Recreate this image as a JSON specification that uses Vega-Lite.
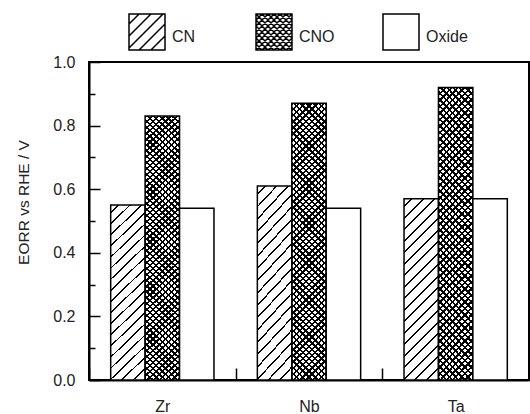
{
"$schema":"https://vega.github.io/schema/vega-lite/v6.json",
"width":440,"height":318,
"autosize":{"type":"none"},
"padding":{"left":89,"top":62,"right":1,"bottom":34},
"background":"white",
"config":{"font":"Liberation Sans","view":{"stroke":"black","strokeWidth":2},
"axis":{"grid":false,"domainColor":"black","domainWidth":2,"tickColor":"black","tickWidth":1.5,"labelFont":"Liberation Sans","labelFontSize":16,"labelColor":"#222","titleFont":"Liberation Sans","titleFontWeight":"normal","titleColor":"#222"}},
"data":{"values":[
{"metal":"Zr","type":"CN","value":0.55},{"metal":"Zr","type":"CNO","value":0.83},{"metal":"Zr","type":"Oxide","value":0.54},
{"metal":"Nb","type":"CN","value":0.61},{"metal":"Nb","type":"CNO","value":0.87},{"metal":"Nb","type":"Oxide","value":0.54},
{"metal":"Ta","type":"CN","value":0.57},{"metal":"Ta","type":"CNO","value":0.92},{"metal":"Ta","type":"Oxide","value":0.57}]},
"encoding":{
"x":{"field":"metal","type":"nominal","sort":["Zr","Nb","Ta"],"scale":{"paddingInner":0,"paddingOuter":0},
"axis":{"title":null,"labelAngle":0,"tickBand":"extent","tickSize":-12,"labelPadding":30}},
"xOffset":{"field":"type","type":"nominal","scale":{"domain":["CN","CNO","Oxide"],"paddingInner":0,"paddingOuter":0.63}},
"y":{"field":"value","type":"quantitative","scale":{"domain":[0,1],"nice":false},
"axis":{"title":"EORR vs RHE / V","titleFontSize":15.5,"titleX":-58,"titleY":140,"values":[0,0.1,0.2,0.3,0.4,0.5,0.6,0.7,0.8,0.9,1],
"labelExpr":"round(datum.value*10)%2==0 ? format(datum.value,'.1f') : ''",
"tickSize":{"condition":{"test":"round(datum.value*10)%2==0","value":-11},"value":-6},"labelPadding":25}}
},
"layer":[
{"transform":[{"filter":"datum.type==='CN'"}],
"mark":{"type":"bar","strokeWidth":0,"fill":{"gradient":"linear","x1":0,"y1":0,"x2":0.2331,"y2":1.2265,"stops":[
{"offset":0.03,"color":"#fff"},{"offset":0.03,"color":"#000"},{"offset":0.038,"color":"#000"},{"offset":0.038,"color":"#fff"},
{"offset":0.08,"color":"#fff"},{"offset":0.08,"color":"#000"},{"offset":0.088,"color":"#000"},{"offset":0.088,"color":"#fff"},
{"offset":0.13,"color":"#fff"},{"offset":0.13,"color":"#000"},{"offset":0.138,"color":"#000"},{"offset":0.138,"color":"#fff"},
{"offset":0.18,"color":"#fff"},{"offset":0.18,"color":"#000"},{"offset":0.188,"color":"#000"},{"offset":0.188,"color":"#fff"},
{"offset":0.23,"color":"#fff"},{"offset":0.23,"color":"#000"},{"offset":0.238,"color":"#000"},{"offset":0.238,"color":"#fff"},
{"offset":0.28,"color":"#fff"},{"offset":0.28,"color":"#000"},{"offset":0.288,"color":"#000"},{"offset":0.288,"color":"#fff"},
{"offset":0.33,"color":"#fff"},{"offset":0.33,"color":"#000"},{"offset":0.338,"color":"#000"},{"offset":0.338,"color":"#fff"},
{"offset":0.38,"color":"#fff"},{"offset":0.38,"color":"#000"},{"offset":0.388,"color":"#000"},{"offset":0.388,"color":"#fff"},
{"offset":0.43,"color":"#fff"},{"offset":0.43,"color":"#000"},{"offset":0.438,"color":"#000"},{"offset":0.438,"color":"#fff"},
{"offset":0.48,"color":"#fff"},{"offset":0.48,"color":"#000"},{"offset":0.488,"color":"#000"},{"offset":0.488,"color":"#fff"},
{"offset":0.53,"color":"#fff"},{"offset":0.53,"color":"#000"},{"offset":0.538,"color":"#000"},{"offset":0.538,"color":"#fff"},
{"offset":0.58,"color":"#fff"},{"offset":0.58,"color":"#000"},{"offset":0.588,"color":"#000"},{"offset":0.588,"color":"#fff"},
{"offset":0.63,"color":"#fff"},{"offset":0.63,"color":"#000"},{"offset":0.638,"color":"#000"},{"offset":0.638,"color":"#fff"},
{"offset":0.68,"color":"#fff"},{"offset":0.68,"color":"#000"},{"offset":0.688,"color":"#000"},{"offset":0.688,"color":"#fff"},
{"offset":0.73,"color":"#fff"},{"offset":0.73,"color":"#000"},{"offset":0.738,"color":"#000"},{"offset":0.738,"color":"#fff"},
{"offset":0.78,"color":"#fff"},{"offset":0.78,"color":"#000"},{"offset":0.788,"color":"#000"},{"offset":0.788,"color":"#fff"},
{"offset":0.83,"color":"#fff"},{"offset":0.83,"color":"#000"},{"offset":0.838,"color":"#000"},{"offset":0.838,"color":"#fff"},
{"offset":0.88,"color":"#fff"},{"offset":0.88,"color":"#000"},{"offset":0.888,"color":"#000"},{"offset":0.888,"color":"#fff"},
{"offset":0.93,"color":"#fff"},{"offset":0.93,"color":"#000"},{"offset":0.938,"color":"#000"},{"offset":0.938,"color":"#fff"},
{"offset":0.98,"color":"#fff"},{"offset":0.98,"color":"#000"},{"offset":0.988,"color":"#000"},{"offset":0.988,"color":"#fff"}
]}}},
{"transform":[{"filter":"datum.type==='CNO'"}],
"mark":{"type":"bar","strokeWidth":0,"fill":{"gradient":"linear","x1":0,"y1":0,"x2":0.1508,"y2":1.2188,"stops":[
{"offset":0,"color":"#fff"},{"offset":0,"color":"#000"},{"offset":0.007,"color":"#000"},{"offset":0.007,"color":"#fff"},
{"offset":0.018,"color":"#fff"},{"offset":0.018,"color":"#000"},{"offset":0.025,"color":"#000"},{"offset":0.025,"color":"#fff"},
{"offset":0.036,"color":"#fff"},{"offset":0.036,"color":"#000"},{"offset":0.043,"color":"#000"},{"offset":0.043,"color":"#fff"},
{"offset":0.054,"color":"#fff"},{"offset":0.054,"color":"#000"},{"offset":0.061,"color":"#000"},{"offset":0.061,"color":"#fff"},
{"offset":0.072,"color":"#fff"},{"offset":0.072,"color":"#000"},{"offset":0.079,"color":"#000"},{"offset":0.079,"color":"#fff"},
{"offset":0.09,"color":"#fff"},{"offset":0.09,"color":"#000"},{"offset":0.097,"color":"#000"},{"offset":0.097,"color":"#fff"},
{"offset":0.108,"color":"#fff"},{"offset":0.108,"color":"#000"},{"offset":0.115,"color":"#000"},{"offset":0.115,"color":"#fff"},
{"offset":0.126,"color":"#fff"},{"offset":0.126,"color":"#000"},{"offset":0.133,"color":"#000"},{"offset":0.133,"color":"#fff"},
{"offset":0.144,"color":"#fff"},{"offset":0.144,"color":"#000"},{"offset":0.151,"color":"#000"},{"offset":0.151,"color":"#fff"},
{"offset":0.162,"color":"#fff"},{"offset":0.162,"color":"#000"},{"offset":0.169,"color":"#000"},{"offset":0.169,"color":"#fff"},
{"offset":0.18,"color":"#fff"},{"offset":0.18,"color":"#000"},{"offset":0.187,"color":"#000"},{"offset":0.187,"color":"#fff"},
{"offset":0.198,"color":"#fff"},{"offset":0.198,"color":"#000"},{"offset":0.205,"color":"#000"},{"offset":0.205,"color":"#fff"},
{"offset":0.216,"color":"#fff"},{"offset":0.216,"color":"#000"},{"offset":0.223,"color":"#000"},{"offset":0.223,"color":"#fff"},
{"offset":0.234,"color":"#fff"},{"offset":0.234,"color":"#000"},{"offset":0.241,"color":"#000"},{"offset":0.241,"color":"#fff"},
{"offset":0.252,"color":"#fff"},{"offset":0.252,"color":"#000"},{"offset":0.259,"color":"#000"},{"offset":0.259,"color":"#fff"},
{"offset":0.27,"color":"#fff"},{"offset":0.27,"color":"#000"},{"offset":0.277,"color":"#000"},{"offset":0.277,"color":"#fff"},
{"offset":0.288,"color":"#fff"},{"offset":0.288,"color":"#000"},{"offset":0.295,"color":"#000"},{"offset":0.295,"color":"#fff"},
{"offset":0.306,"color":"#fff"},{"offset":0.306,"color":"#000"},{"offset":0.313,"color":"#000"},{"offset":0.313,"color":"#fff"},
{"offset":0.324,"color":"#fff"},{"offset":0.324,"color":"#000"},{"offset":0.331,"color":"#000"},{"offset":0.331,"color":"#fff"},
{"offset":0.342,"color":"#fff"},{"offset":0.342,"color":"#000"},{"offset":0.349,"color":"#000"},{"offset":0.349,"color":"#fff"},
{"offset":0.36,"color":"#fff"},{"offset":0.36,"color":"#000"},{"offset":0.367,"color":"#000"},{"offset":0.367,"color":"#fff"},
{"offset":0.378,"color":"#fff"},{"offset":0.378,"color":"#000"},{"offset":0.385,"color":"#000"},{"offset":0.385,"color":"#fff"},
{"offset":0.396,"color":"#fff"},{"offset":0.396,"color":"#000"},{"offset":0.403,"color":"#000"},{"offset":0.403,"color":"#fff"},
{"offset":0.414,"color":"#fff"},{"offset":0.414,"color":"#000"},{"offset":0.421,"color":"#000"},{"offset":0.421,"color":"#fff"},
{"offset":0.432,"color":"#fff"},{"offset":0.432,"color":"#000"},{"offset":0.439,"color":"#000"},{"offset":0.439,"color":"#fff"},
{"offset":0.45,"color":"#fff"},{"offset":0.45,"color":"#000"},{"offset":0.457,"color":"#000"},{"offset":0.457,"color":"#fff"},
{"offset":0.468,"color":"#fff"},{"offset":0.468,"color":"#000"},{"offset":0.475,"color":"#000"},{"offset":0.475,"color":"#fff"},
{"offset":0.486,"color":"#fff"},{"offset":0.486,"color":"#000"},{"offset":0.493,"color":"#000"},{"offset":0.493,"color":"#fff"},
{"offset":0.504,"color":"#fff"},{"offset":0.504,"color":"#000"},{"offset":0.511,"color":"#000"},{"offset":0.511,"color":"#fff"},
{"offset":0.522,"color":"#fff"},{"offset":0.522,"color":"#000"},{"offset":0.529,"color":"#000"},{"offset":0.529,"color":"#fff"},
{"offset":0.54,"color":"#fff"},{"offset":0.54,"color":"#000"},{"offset":0.547,"color":"#000"},{"offset":0.547,"color":"#fff"},
{"offset":0.558,"color":"#fff"},{"offset":0.558,"color":"#000"},{"offset":0.565,"color":"#000"},{"offset":0.565,"color":"#fff"},
{"offset":0.576,"color":"#fff"},{"offset":0.576,"color":"#000"},{"offset":0.583,"color":"#000"},{"offset":0.583,"color":"#fff"},
{"offset":0.594,"color":"#fff"},{"offset":0.594,"color":"#000"},{"offset":0.601,"color":"#000"},{"offset":0.601,"color":"#fff"},
{"offset":0.612,"color":"#fff"},{"offset":0.612,"color":"#000"},{"offset":0.619,"color":"#000"},{"offset":0.619,"color":"#fff"},
{"offset":0.63,"color":"#fff"},{"offset":0.63,"color":"#000"},{"offset":0.637,"color":"#000"},{"offset":0.637,"color":"#fff"},
{"offset":0.648,"color":"#fff"},{"offset":0.648,"color":"#000"},{"offset":0.655,"color":"#000"},{"offset":0.655,"color":"#fff"},
{"offset":0.666,"color":"#fff"},{"offset":0.666,"color":"#000"},{"offset":0.673,"color":"#000"},{"offset":0.673,"color":"#fff"},
{"offset":0.684,"color":"#fff"},{"offset":0.684,"color":"#000"},{"offset":0.691,"color":"#000"},{"offset":0.691,"color":"#fff"},
{"offset":0.702,"color":"#fff"},{"offset":0.702,"color":"#000"},{"offset":0.709,"color":"#000"},{"offset":0.709,"color":"#fff"},
{"offset":0.72,"color":"#fff"},{"offset":0.72,"color":"#000"},{"offset":0.727,"color":"#000"},{"offset":0.727,"color":"#fff"},
{"offset":0.738,"color":"#fff"},{"offset":0.738,"color":"#000"},{"offset":0.745,"color":"#000"},{"offset":0.745,"color":"#fff"},
{"offset":0.756,"color":"#fff"},{"offset":0.756,"color":"#000"},{"offset":0.763,"color":"#000"},{"offset":0.763,"color":"#fff"},
{"offset":0.774,"color":"#fff"},{"offset":0.774,"color":"#000"},{"offset":0.781,"color":"#000"},{"offset":0.781,"color":"#fff"},
{"offset":0.792,"color":"#fff"},{"offset":0.792,"color":"#000"},{"offset":0.799,"color":"#000"},{"offset":0.799,"color":"#fff"},
{"offset":0.81,"color":"#fff"},{"offset":0.81,"color":"#000"},{"offset":0.817,"color":"#000"},{"offset":0.817,"color":"#fff"},
{"offset":0.828,"color":"#fff"},{"offset":0.828,"color":"#000"},{"offset":0.835,"color":"#000"},{"offset":0.835,"color":"#fff"},
{"offset":0.846,"color":"#fff"},{"offset":0.846,"color":"#000"},{"offset":0.853,"color":"#000"},{"offset":0.853,"color":"#fff"},
{"offset":0.864,"color":"#fff"},{"offset":0.864,"color":"#000"},{"offset":0.871,"color":"#000"},{"offset":0.871,"color":"#fff"},
{"offset":0.882,"color":"#fff"},{"offset":0.882,"color":"#000"},{"offset":0.889,"color":"#000"},{"offset":0.889,"color":"#fff"},
{"offset":0.9,"color":"#fff"},{"offset":0.9,"color":"#000"},{"offset":0.907,"color":"#000"},{"offset":0.907,"color":"#fff"},
{"offset":0.918,"color":"#fff"},{"offset":0.918,"color":"#000"},{"offset":0.925,"color":"#000"},{"offset":0.925,"color":"#fff"},
{"offset":0.936,"color":"#fff"},{"offset":0.936,"color":"#000"},{"offset":0.943,"color":"#000"},{"offset":0.943,"color":"#fff"},
{"offset":0.954,"color":"#fff"},{"offset":0.954,"color":"#000"},{"offset":0.961,"color":"#000"},{"offset":0.961,"color":"#fff"},
{"offset":0.972,"color":"#fff"},{"offset":0.972,"color":"#000"},{"offset":0.979,"color":"#000"},{"offset":0.979,"color":"#fff"},
{"offset":0.99,"color":"#fff"},{"offset":0.99,"color":"#000"},{"offset":0.997,"color":"#000"},{"offset":0.997,"color":"#fff"}
]}}},
{"transform":[{"filter":"datum.type==='CNO'"}],
"mark":{"type":"bar","strokeWidth":0,"fill":{"gradient":"linear","x1":1,"y1":0,"x2":0.8492,"y2":1.2188,"stops":[
{"offset":0,"color":"rgba(0,0,0,0)"},{"offset":0,"color":"#000"},{"offset":0.007,"color":"#000"},{"offset":0.007,"color":"rgba(0,0,0,0)"},
{"offset":0.018,"color":"rgba(0,0,0,0)"},{"offset":0.018,"color":"#000"},{"offset":0.025,"color":"#000"},{"offset":0.025,"color":"rgba(0,0,0,0)"},
{"offset":0.036,"color":"rgba(0,0,0,0)"},{"offset":0.036,"color":"#000"},{"offset":0.043,"color":"#000"},{"offset":0.043,"color":"rgba(0,0,0,0)"},
{"offset":0.054,"color":"rgba(0,0,0,0)"},{"offset":0.054,"color":"#000"},{"offset":0.061,"color":"#000"},{"offset":0.061,"color":"rgba(0,0,0,0)"},
{"offset":0.072,"color":"rgba(0,0,0,0)"},{"offset":0.072,"color":"#000"},{"offset":0.079,"color":"#000"},{"offset":0.079,"color":"rgba(0,0,0,0)"},
{"offset":0.09,"color":"rgba(0,0,0,0)"},{"offset":0.09,"color":"#000"},{"offset":0.097,"color":"#000"},{"offset":0.097,"color":"rgba(0,0,0,0)"},
{"offset":0.108,"color":"rgba(0,0,0,0)"},{"offset":0.108,"color":"#000"},{"offset":0.115,"color":"#000"},{"offset":0.115,"color":"rgba(0,0,0,0)"},
{"offset":0.126,"color":"rgba(0,0,0,0)"},{"offset":0.126,"color":"#000"},{"offset":0.133,"color":"#000"},{"offset":0.133,"color":"rgba(0,0,0,0)"},
{"offset":0.144,"color":"rgba(0,0,0,0)"},{"offset":0.144,"color":"#000"},{"offset":0.151,"color":"#000"},{"offset":0.151,"color":"rgba(0,0,0,0)"},
{"offset":0.162,"color":"rgba(0,0,0,0)"},{"offset":0.162,"color":"#000"},{"offset":0.169,"color":"#000"},{"offset":0.169,"color":"rgba(0,0,0,0)"},
{"offset":0.18,"color":"rgba(0,0,0,0)"},{"offset":0.18,"color":"#000"},{"offset":0.187,"color":"#000"},{"offset":0.187,"color":"rgba(0,0,0,0)"},
{"offset":0.198,"color":"rgba(0,0,0,0)"},{"offset":0.198,"color":"#000"},{"offset":0.205,"color":"#000"},{"offset":0.205,"color":"rgba(0,0,0,0)"},
{"offset":0.216,"color":"rgba(0,0,0,0)"},{"offset":0.216,"color":"#000"},{"offset":0.223,"color":"#000"},{"offset":0.223,"color":"rgba(0,0,0,0)"},
{"offset":0.234,"color":"rgba(0,0,0,0)"},{"offset":0.234,"color":"#000"},{"offset":0.241,"color":"#000"},{"offset":0.241,"color":"rgba(0,0,0,0)"},
{"offset":0.252,"color":"rgba(0,0,0,0)"},{"offset":0.252,"color":"#000"},{"offset":0.259,"color":"#000"},{"offset":0.259,"color":"rgba(0,0,0,0)"},
{"offset":0.27,"color":"rgba(0,0,0,0)"},{"offset":0.27,"color":"#000"},{"offset":0.277,"color":"#000"},{"offset":0.277,"color":"rgba(0,0,0,0)"},
{"offset":0.288,"color":"rgba(0,0,0,0)"},{"offset":0.288,"color":"#000"},{"offset":0.295,"color":"#000"},{"offset":0.295,"color":"rgba(0,0,0,0)"},
{"offset":0.306,"color":"rgba(0,0,0,0)"},{"offset":0.306,"color":"#000"},{"offset":0.313,"color":"#000"},{"offset":0.313,"color":"rgba(0,0,0,0)"},
{"offset":0.324,"color":"rgba(0,0,0,0)"},{"offset":0.324,"color":"#000"},{"offset":0.331,"color":"#000"},{"offset":0.331,"color":"rgba(0,0,0,0)"},
{"offset":0.342,"color":"rgba(0,0,0,0)"},{"offset":0.342,"color":"#000"},{"offset":0.349,"color":"#000"},{"offset":0.349,"color":"rgba(0,0,0,0)"},
{"offset":0.36,"color":"rgba(0,0,0,0)"},{"offset":0.36,"color":"#000"},{"offset":0.367,"color":"#000"},{"offset":0.367,"color":"rgba(0,0,0,0)"},
{"offset":0.378,"color":"rgba(0,0,0,0)"},{"offset":0.378,"color":"#000"},{"offset":0.385,"color":"#000"},{"offset":0.385,"color":"rgba(0,0,0,0)"},
{"offset":0.396,"color":"rgba(0,0,0,0)"},{"offset":0.396,"color":"#000"},{"offset":0.403,"color":"#000"},{"offset":0.403,"color":"rgba(0,0,0,0)"},
{"offset":0.414,"color":"rgba(0,0,0,0)"},{"offset":0.414,"color":"#000"},{"offset":0.421,"color":"#000"},{"offset":0.421,"color":"rgba(0,0,0,0)"},
{"offset":0.432,"color":"rgba(0,0,0,0)"},{"offset":0.432,"color":"#000"},{"offset":0.439,"color":"#000"},{"offset":0.439,"color":"rgba(0,0,0,0)"},
{"offset":0.45,"color":"rgba(0,0,0,0)"},{"offset":0.45,"color":"#000"},{"offset":0.457,"color":"#000"},{"offset":0.457,"color":"rgba(0,0,0,0)"},
{"offset":0.468,"color":"rgba(0,0,0,0)"},{"offset":0.468,"color":"#000"},{"offset":0.475,"color":"#000"},{"offset":0.475,"color":"rgba(0,0,0,0)"},
{"offset":0.486,"color":"rgba(0,0,0,0)"},{"offset":0.486,"color":"#000"},{"offset":0.493,"color":"#000"},{"offset":0.493,"color":"rgba(0,0,0,0)"},
{"offset":0.504,"color":"rgba(0,0,0,0)"},{"offset":0.504,"color":"#000"},{"offset":0.511,"color":"#000"},{"offset":0.511,"color":"rgba(0,0,0,0)"},
{"offset":0.522,"color":"rgba(0,0,0,0)"},{"offset":0.522,"color":"#000"},{"offset":0.529,"color":"#000"},{"offset":0.529,"color":"rgba(0,0,0,0)"},
{"offset":0.54,"color":"rgba(0,0,0,0)"},{"offset":0.54,"color":"#000"},{"offset":0.547,"color":"#000"},{"offset":0.547,"color":"rgba(0,0,0,0)"},
{"offset":0.558,"color":"rgba(0,0,0,0)"},{"offset":0.558,"color":"#000"},{"offset":0.565,"color":"#000"},{"offset":0.565,"color":"rgba(0,0,0,0)"},
{"offset":0.576,"color":"rgba(0,0,0,0)"},{"offset":0.576,"color":"#000"},{"offset":0.583,"color":"#000"},{"offset":0.583,"color":"rgba(0,0,0,0)"},
{"offset":0.594,"color":"rgba(0,0,0,0)"},{"offset":0.594,"color":"#000"},{"offset":0.601,"color":"#000"},{"offset":0.601,"color":"rgba(0,0,0,0)"},
{"offset":0.612,"color":"rgba(0,0,0,0)"},{"offset":0.612,"color":"#000"},{"offset":0.619,"color":"#000"},{"offset":0.619,"color":"rgba(0,0,0,0)"},
{"offset":0.63,"color":"rgba(0,0,0,0)"},{"offset":0.63,"color":"#000"},{"offset":0.637,"color":"#000"},{"offset":0.637,"color":"rgba(0,0,0,0)"},
{"offset":0.648,"color":"rgba(0,0,0,0)"},{"offset":0.648,"color":"#000"},{"offset":0.655,"color":"#000"},{"offset":0.655,"color":"rgba(0,0,0,0)"},
{"offset":0.666,"color":"rgba(0,0,0,0)"},{"offset":0.666,"color":"#000"},{"offset":0.673,"color":"#000"},{"offset":0.673,"color":"rgba(0,0,0,0)"},
{"offset":0.684,"color":"rgba(0,0,0,0)"},{"offset":0.684,"color":"#000"},{"offset":0.691,"color":"#000"},{"offset":0.691,"color":"rgba(0,0,0,0)"},
{"offset":0.702,"color":"rgba(0,0,0,0)"},{"offset":0.702,"color":"#000"},{"offset":0.709,"color":"#000"},{"offset":0.709,"color":"rgba(0,0,0,0)"},
{"offset":0.72,"color":"rgba(0,0,0,0)"},{"offset":0.72,"color":"#000"},{"offset":0.727,"color":"#000"},{"offset":0.727,"color":"rgba(0,0,0,0)"},
{"offset":0.738,"color":"rgba(0,0,0,0)"},{"offset":0.738,"color":"#000"},{"offset":0.745,"color":"#000"},{"offset":0.745,"color":"rgba(0,0,0,0)"},
{"offset":0.756,"color":"rgba(0,0,0,0)"},{"offset":0.756,"color":"#000"},{"offset":0.763,"color":"#000"},{"offset":0.763,"color":"rgba(0,0,0,0)"},
{"offset":0.774,"color":"rgba(0,0,0,0)"},{"offset":0.774,"color":"#000"},{"offset":0.781,"color":"#000"},{"offset":0.781,"color":"rgba(0,0,0,0)"},
{"offset":0.792,"color":"rgba(0,0,0,0)"},{"offset":0.792,"color":"#000"},{"offset":0.799,"color":"#000"},{"offset":0.799,"color":"rgba(0,0,0,0)"},
{"offset":0.81,"color":"rgba(0,0,0,0)"},{"offset":0.81,"color":"#000"},{"offset":0.817,"color":"#000"},{"offset":0.817,"color":"rgba(0,0,0,0)"},
{"offset":0.828,"color":"rgba(0,0,0,0)"},{"offset":0.828,"color":"#000"},{"offset":0.835,"color":"#000"},{"offset":0.835,"color":"rgba(0,0,0,0)"},
{"offset":0.846,"color":"rgba(0,0,0,0)"},{"offset":0.846,"color":"#000"},{"offset":0.853,"color":"#000"},{"offset":0.853,"color":"rgba(0,0,0,0)"},
{"offset":0.864,"color":"rgba(0,0,0,0)"},{"offset":0.864,"color":"#000"},{"offset":0.871,"color":"#000"},{"offset":0.871,"color":"rgba(0,0,0,0)"},
{"offset":0.882,"color":"rgba(0,0,0,0)"},{"offset":0.882,"color":"#000"},{"offset":0.889,"color":"#000"},{"offset":0.889,"color":"rgba(0,0,0,0)"},
{"offset":0.9,"color":"rgba(0,0,0,0)"},{"offset":0.9,"color":"#000"},{"offset":0.907,"color":"#000"},{"offset":0.907,"color":"rgba(0,0,0,0)"},
{"offset":0.918,"color":"rgba(0,0,0,0)"},{"offset":0.918,"color":"#000"},{"offset":0.925,"color":"#000"},{"offset":0.925,"color":"rgba(0,0,0,0)"},
{"offset":0.936,"color":"rgba(0,0,0,0)"},{"offset":0.936,"color":"#000"},{"offset":0.943,"color":"#000"},{"offset":0.943,"color":"rgba(0,0,0,0)"},
{"offset":0.954,"color":"rgba(0,0,0,0)"},{"offset":0.954,"color":"#000"},{"offset":0.961,"color":"#000"},{"offset":0.961,"color":"rgba(0,0,0,0)"},
{"offset":0.972,"color":"rgba(0,0,0,0)"},{"offset":0.972,"color":"#000"},{"offset":0.979,"color":"#000"},{"offset":0.979,"color":"rgba(0,0,0,0)"},
{"offset":0.99,"color":"rgba(0,0,0,0)"},{"offset":0.99,"color":"#000"},{"offset":0.997,"color":"#000"},{"offset":0.997,"color":"rgba(0,0,0,0)"}
]}}},
{"mark":{"type":"bar","stroke":"black","strokeWidth":1.5},
"encoding":{"fill":{"field":"type","type":"nominal","scale":{"domain":["CN","CNO","Oxide"],"range":["rgba(0,0,0,0)","rgba(0,0,0,0)","white"]},
"legend":{"title":null,"orient":"none","legendX":39,"legendY":-49,"direction":"horizontal","columns":3,"gridAlign":"all","columnPadding":39,"padding":0,
"symbolSize":1296,"symbolStrokeWidth":1.5,"symbolStrokeColor":"black","labelFontSize":16,"labelColor":"#222","labelOffset":6,
"encode":{"labels":{"update":{"dy":{"value":5}}},"symbols":{"update":{"fill":{"value":"white"},"stroke":{"value":"black"},"strokeWidth":{"value":1.5},
"shape":[{"test":"datum.value==='CN'","value":"M-1,-1H1V1H-1ZM-1,-0.44L-0.44,-1M-1,0.22L0.22,-1M-1,0.89L0.89,-1M-0.44,1L1,-0.44M0.22,1L1,0.22"},
{"test":"datum.value==='CNO'","value":"M-1,-1H1V1H-1ZM-1,-0.667L-0.667,-1M-1,-0.333L-0.333,-1M-1,0L0,-1M-1,0.333L0.333,-1M-1,0.667L0.667,-1M-1,1L1,-1M-0.667,1L1,-0.667M-0.333,1L1,-0.333M0,1L1,0M0.333,1L1,0.333M0.667,1L1,0.667M0.667,-1L1,-0.667M0.333,-1L1,-0.333M0,-1L1,0M-0.333,-1L1,0.333M-0.667,-1L1,0.667M-1,-1L1,1M-1,-0.667L0.667,1M-1,-0.333L0.333,1M-1,0L0,1M-1,0.333L-0.333,1M-1,0.667L-0.667,1"},
{"value":"square"}]}}}}}}}
]
}
